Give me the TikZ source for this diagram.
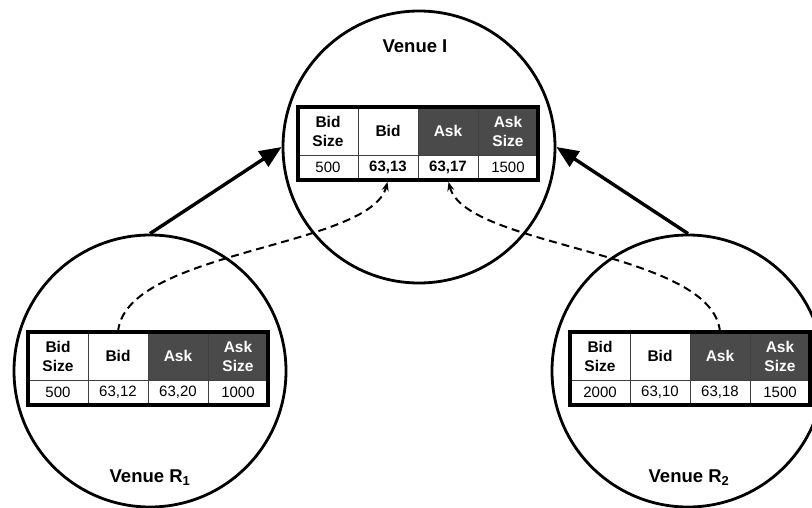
\documentclass[tikz,border=0pt]{standalone}
\usepackage{fontspec}
\setmainfont{Liberation Sans}
\usetikzlibrary{arrows.meta,positioning}

\definecolor{headgray}{HTML}{4A4A4A}

\tikzset{
  venue/.style={circle, draw, line width=2.8pt, minimum size=272pt, inner sep=0pt},
  venuelabel/.style={font=\fontsize{18.5}{20}\selectfont\bfseries},
  headcell/.style={draw=black!75, line width=0.7pt, fill=white, minimum width=60pt,
    minimum height=48pt, inner sep=0pt, outer sep=0pt, align=center,
    font=\fontsize{15.5}{19}\selectfont\bfseries},
  darkcell/.style={headcell, fill=headgray, text=white},
  datacell/.style={draw=black!75, line width=0.7pt, fill=white, minimum width=60pt,
    minimum height=25pt, inner sep=0pt, outer sep=0pt, font=\fontsize{15}{17}\selectfont},
  tableframe/.style={draw, line width=3.2pt},
  feed/.style={-{Triangle[length=22pt,width=18pt]}, line width=3.4pt},
  quoteflow/.style={-{Stealth[length=9pt,width=7pt]}, dash pattern=on 8pt off 5pt,
    line width=2pt, shorten >=2pt}
}

% one order book: name, top left corner, bid size, bid, ask, ask size
\newcommand{\quotebook}[6]{%
  \node[headcell, anchor=north west] (#1-bs) at (#2) {Bid\\Size};
  \node[headcell, right=0pt of #1-bs] (#1-b) {Bid};
  \node[darkcell, right=0pt of #1-b] (#1-a) {Ask};
  \node[darkcell, right=0pt of #1-a] (#1-as) {Ask\\Size};
  \node[datacell, below=0pt of #1-bs] (#1-bsv) {#3};
  \node[datacell, below=0pt of #1-b] (#1-bv) {#4};
  \node[datacell, below=0pt of #1-a] (#1-av) {#5};
  \node[datacell, below=0pt of #1-as] (#1-asv) {#6};
  \draw[tableframe] (#1-bs.north west) rectangle (#1-asv.south east);
}

\begin{document}
\begin{tikzpicture}[x=1pt,y=-1pt]

\useasboundingbox (0,0) rectangle (812,508);

% venues
\node[venue] (venueI) at (419,147) {};
\node[venue] (venueR1) at (150,371) {};
\node[venue] (venueR2) at (688,371) {};

\node[venuelabel] (lblI) at (415,46) {Venue I};
\node[venuelabel] (lblR1) at (150,478) {Venue R\textsubscript{1}};
\node[venuelabel] (lblR2) at (689,478) {Venue R\textsubscript{2}};

% order books
\quotebook{bookI}{298,107}{500}{\textbf{63,13}}{\textbf{63,17}}{1500}
\quotebook{bookR1}{28,332}{500}{63,12}{63,20}{1000}
\quotebook{bookR2}{570,332}{2000}{63,10}{63,18}{1500}

% routing
\draw[feed] (venueR1.north) -- (venueI.west);
\draw[feed] (venueR2.north) -- (venueI.east);

% best quotes
\draw[quoteflow] (bookR1-b.north) .. controls +(7,-82) and +(-18,68) .. (bookI-bv.south);
\draw[quoteflow] (bookR2-a.north) .. controls +(-7,-82) and +(18,68) .. (bookI-av.south);

\end{tikzpicture}
\end{document}
